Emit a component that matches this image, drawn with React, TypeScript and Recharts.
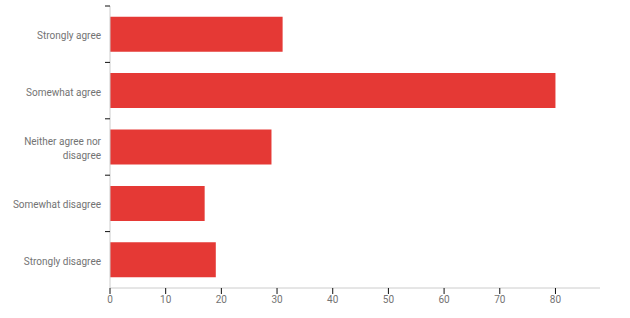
import * as React from 'react';
import { BarChart, Bar, XAxis, YAxis } from 'recharts';

const categories = ['Strongly agree', 'Somewhat agree', 'Neither agree nor disagree', 'Somewhat disagree', 'Strongly disagree'];
const responses = [31, 80, 29, 17, 19];
const xTicks = [0, 10, 20, 30, 40, 50, 60, 70, 80];

const data = categories.map((name, i) => ({ name, value: responses[i] }));

const FONT = 'Roboto, "Noto Sans", sans-serif';

// split long labels onto two lines (roughly 18 chars per line)
const wrapLabel = (s: string) => {
  if (s.length <= 18) return [s];
  const cut = s.lastIndexOf(' ', 18);
  return [s.slice(0, cut), s.slice(cut + 1)];
};

const CategoryTick = (props: any) => {
  const { x, y, payload } = props;
  const band = props.height ? props.height / categories.length : 56.4;
  const lines = wrapLabel(payload.value);
  const lh = 13.5;
  const y0 = y - ((lines.length - 1) * lh) / 2 + 1;
  return (
    <g>
      <line x1={x + 3} x2={x + 8} y1={y - band / 2} y2={y - band / 2} stroke="#111" />
      <text
        x={x - 1}
        y={y0}
        textAnchor="end"
        dominantBaseline="central"
        fill="#737373"
        style={{ fontSize: 10, fontFamily: FONT }}
      >
        {lines.map((l, i) => (
          <tspan key={i} x={x - 1} dy={i === 0 ? 0 : lh}>{l}</tspan>
        ))}
      </text>
    </g>
  );
};

export default function App() {
  return (
    <div style={{ width: 630, height: 318 }}>
      <style>{'body{margin:0}'}</style>
      <BarChart
        width={630}
        height={318}
        data={data}
        layout="vertical"
        margin={{ top: 6, right: 30, bottom: 0, left: 0 }}
        barCategoryGap="19%"
      >
        <XAxis
          type="number"
          domain={[0, 88]}
          ticks={xTicks}
          height={30}
          stroke="#cccccc"
          tickLine={{ stroke: '#111' }}
          tickSize={6}
          tick={{ fill: '#737373', fontSize: 10, fontFamily: FONT }}
        />
        <YAxis
          type="category"
          dataKey="name"
          width={110}
          stroke="#cccccc"
          tickLine={false}
          interval={0}
          tick={<CategoryTick />}
        />
        <Bar dataKey="value" fill="#e53935" isAnimationActive={false} />
      </BarChart>
    </div>
  );
}
